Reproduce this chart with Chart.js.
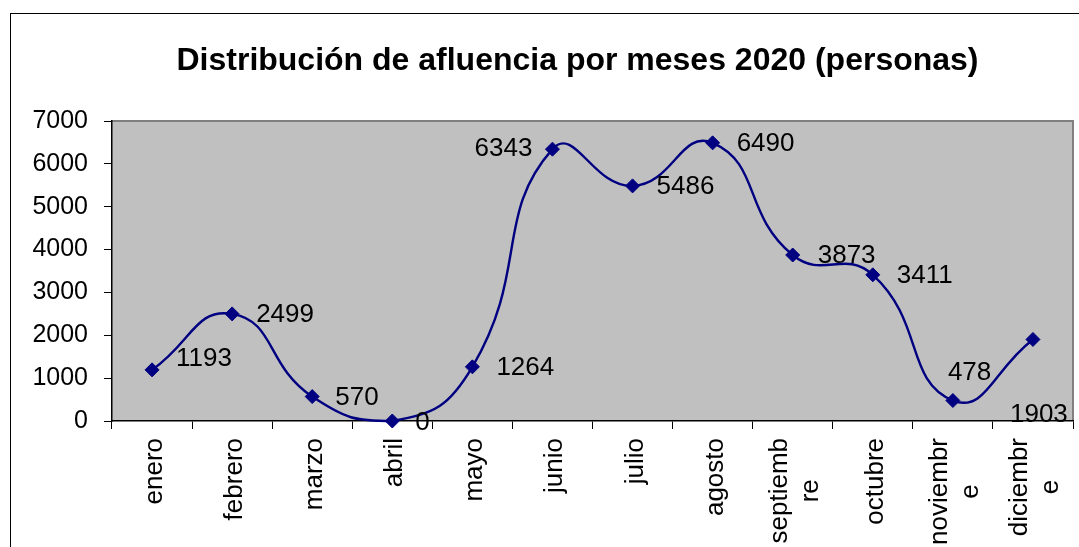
<!DOCTYPE html>
<html>
<head>
<meta charset="utf-8">
<script src="https://cdn.jsdelivr.net/npm/chart.js@4/dist/chart.umd.min.js"></script>
<style>
  html, body { margin: 0; padding: 0; background: #fff; overflow: hidden; }
  #frame { position: absolute; left: 10px; top: 13px; width: 1200px; height: 700px; border: 1px solid #000; }
  #last12MonthsChart { position: absolute; left: 0; top: 0; }
</style>
</head>
<body>
<div id="frame"></div>
<canvas id="last12MonthsChart" width="1155" height="547"></canvas>
<script>
// chart data
const months = [['enero'], ['febrero'], ['marzo'], ['abril'], ['mayo'], ['junio'], ['julio'], ['agosto'],
  ['septiemb', 're'], ['octubre'], ['noviembr', 'e'], ['diciembr', 'e']];
const visitors2020 = [1193, 2499, 570, 0, 1264, 6343, 5486, 6490, 3873, 3411, 478, 1903];
const yTicks = [0, 1000, 2000, 3000, 4000, 5000, 6000, 7000];

// where each value label sits next to its point: [dx, dy, align]
const labelOffsets = [
  [24, -11, 'left'], [24, 1, 'left'], [23, 1, 'left'], [23, 2, 'left'], [24, 1, 'left'], [-20, 0, 'right'],
  [24, 1, 'left'], [24, 1, 'left'], [25, 1, 'left'], [24, 1, 'left'], [-5, -28, 'left'], [-23, 75, 'left']
];

const FONT = "'Liberation Sans', Arial, sans-serif";

const plotBackground = {
  id: 'plotBackground',
  beforeDraw(chart) {
    const { ctx, chartArea: a } = chart;
    ctx.save();
    ctx.fillStyle = '#c0c0c0';
    ctx.fillRect(a.left, a.top, a.right - a.left, a.bottom - a.top);
    ctx.strokeStyle = '#808080';
    ctx.lineWidth = 2;
    ctx.beginPath();
    ctx.moveTo(a.left, a.top);
    ctx.lineTo(a.right, a.top);
    ctx.lineTo(a.right, a.bottom);
    ctx.stroke();
    ctx.restore();
  }
};

const valueLabels = {
  id: 'valueLabels',
  afterDatasetsDraw(chart) {
    const ctx = chart.ctx;
    const pts = chart.getDatasetMeta(0).data;
    ctx.save();
    ctx.font = '26px ' + FONT;
    ctx.fillStyle = '#000';
    ctx.textBaseline = 'middle';
    pts.forEach((p, i) => {
      const [dx, dy, align] = labelOffsets[i];
      ctx.textAlign = align;
      ctx.fillText(String(visitors2020[i]), p.x + dx, p.y + dy);
    });
    ctx.restore();
  }
};

// month names, turned up the way Excel does it, short lines centred
const monthLabels = {
  id: 'monthLabels',
  afterDraw(chart) {
    const ctx = chart.ctx;
    const x = chart.scales.x;
    const top = chart.chartArea.bottom + 17;
    ctx.save();
    ctx.font = '26px ' + FONT;
    ctx.fillStyle = '#000';
    ctx.textBaseline = 'alphabetic';
    ctx.textAlign = 'center';
    months.forEach((lines, i) => {
      const cx = x.getPixelForTick(i);
      const w = Math.max(...lines.map(l => ctx.measureText(l).width));
      ctx.save();
      ctx.translate(cx, top);
      ctx.rotate(-Math.PI / 2);
      lines.forEach((l, k) => {
        ctx.fillText(l, -w / 2, 10 + (k - (lines.length - 1) / 2) * 31);
      });
      ctx.restore();
    });
    ctx.restore();
  }
};

const ctx = document.getElementById('last12MonthsChart').getContext('2d');

const last12MonthsChart = new Chart(ctx, {
  type: 'line',
  data: {
    labels: months.map(m => m.join('')),
    datasets: [{
      data: visitors2020,
      borderColor: '#000080',
      backgroundColor: '#000080',
      borderWidth: 2.4,
      tension: 0.5,
      pointStyle: 'rectRot',
      pointRadius: 7,
      pointBorderWidth: 1,
      pointBackgroundColor: '#000080',
      pointBorderColor: '#000080',
      clip: false
    }]
  },
  options: {
    responsive: false,
    animation: false,
    layout: { padding: 0 },
    plugins: {
      legend: { display: false },
      tooltip: { enabled: false },
      title: {
        display: true,
        text: 'Distribución de afluencia por meses 2020 (personas)',
        color: '#000',
        font: { family: FONT, size: 32, weight: 'bold' },
        padding: { top: 42, bottom: 40.6 }
      }
    },
    scales: {
      x: {
        offset: true,
        grid: { display: true, offset: true, drawOnChartArea: false, tickLength: 8, color: '#000' },
        border: { color: '#000', width: 1.5 },
        ticks: { display: false },
        afterFit(s) { s.height = 126; }
      },
      y: {
        min: 0,
        max: 7000,
        afterBuildTicks(s) { s.ticks = yTicks.map(v => ({ value: v })); },
        grid: { drawOnChartArea: false, tickLength: 8, color: '#000' },
        border: { color: '#000', width: 1.5 },
        ticks: { color: '#000', padding: 16, font: { family: FONT, size: 25 }, callback: v => String(v) },
        afterFit(s) { s.width = 112; }
      },
      // empty strip on the right so the title centres like the original
      spacer: {
        type: 'linear',
        position: 'right',
        grid: { display: false },
        border: { display: false },
        ticks: { display: false },
        afterFit(s) { s.width = 82; }
      }
    }
  },
  plugins: [plotBackground, valueLabels, monthLabels]
});
</script>
</body>
</html>
